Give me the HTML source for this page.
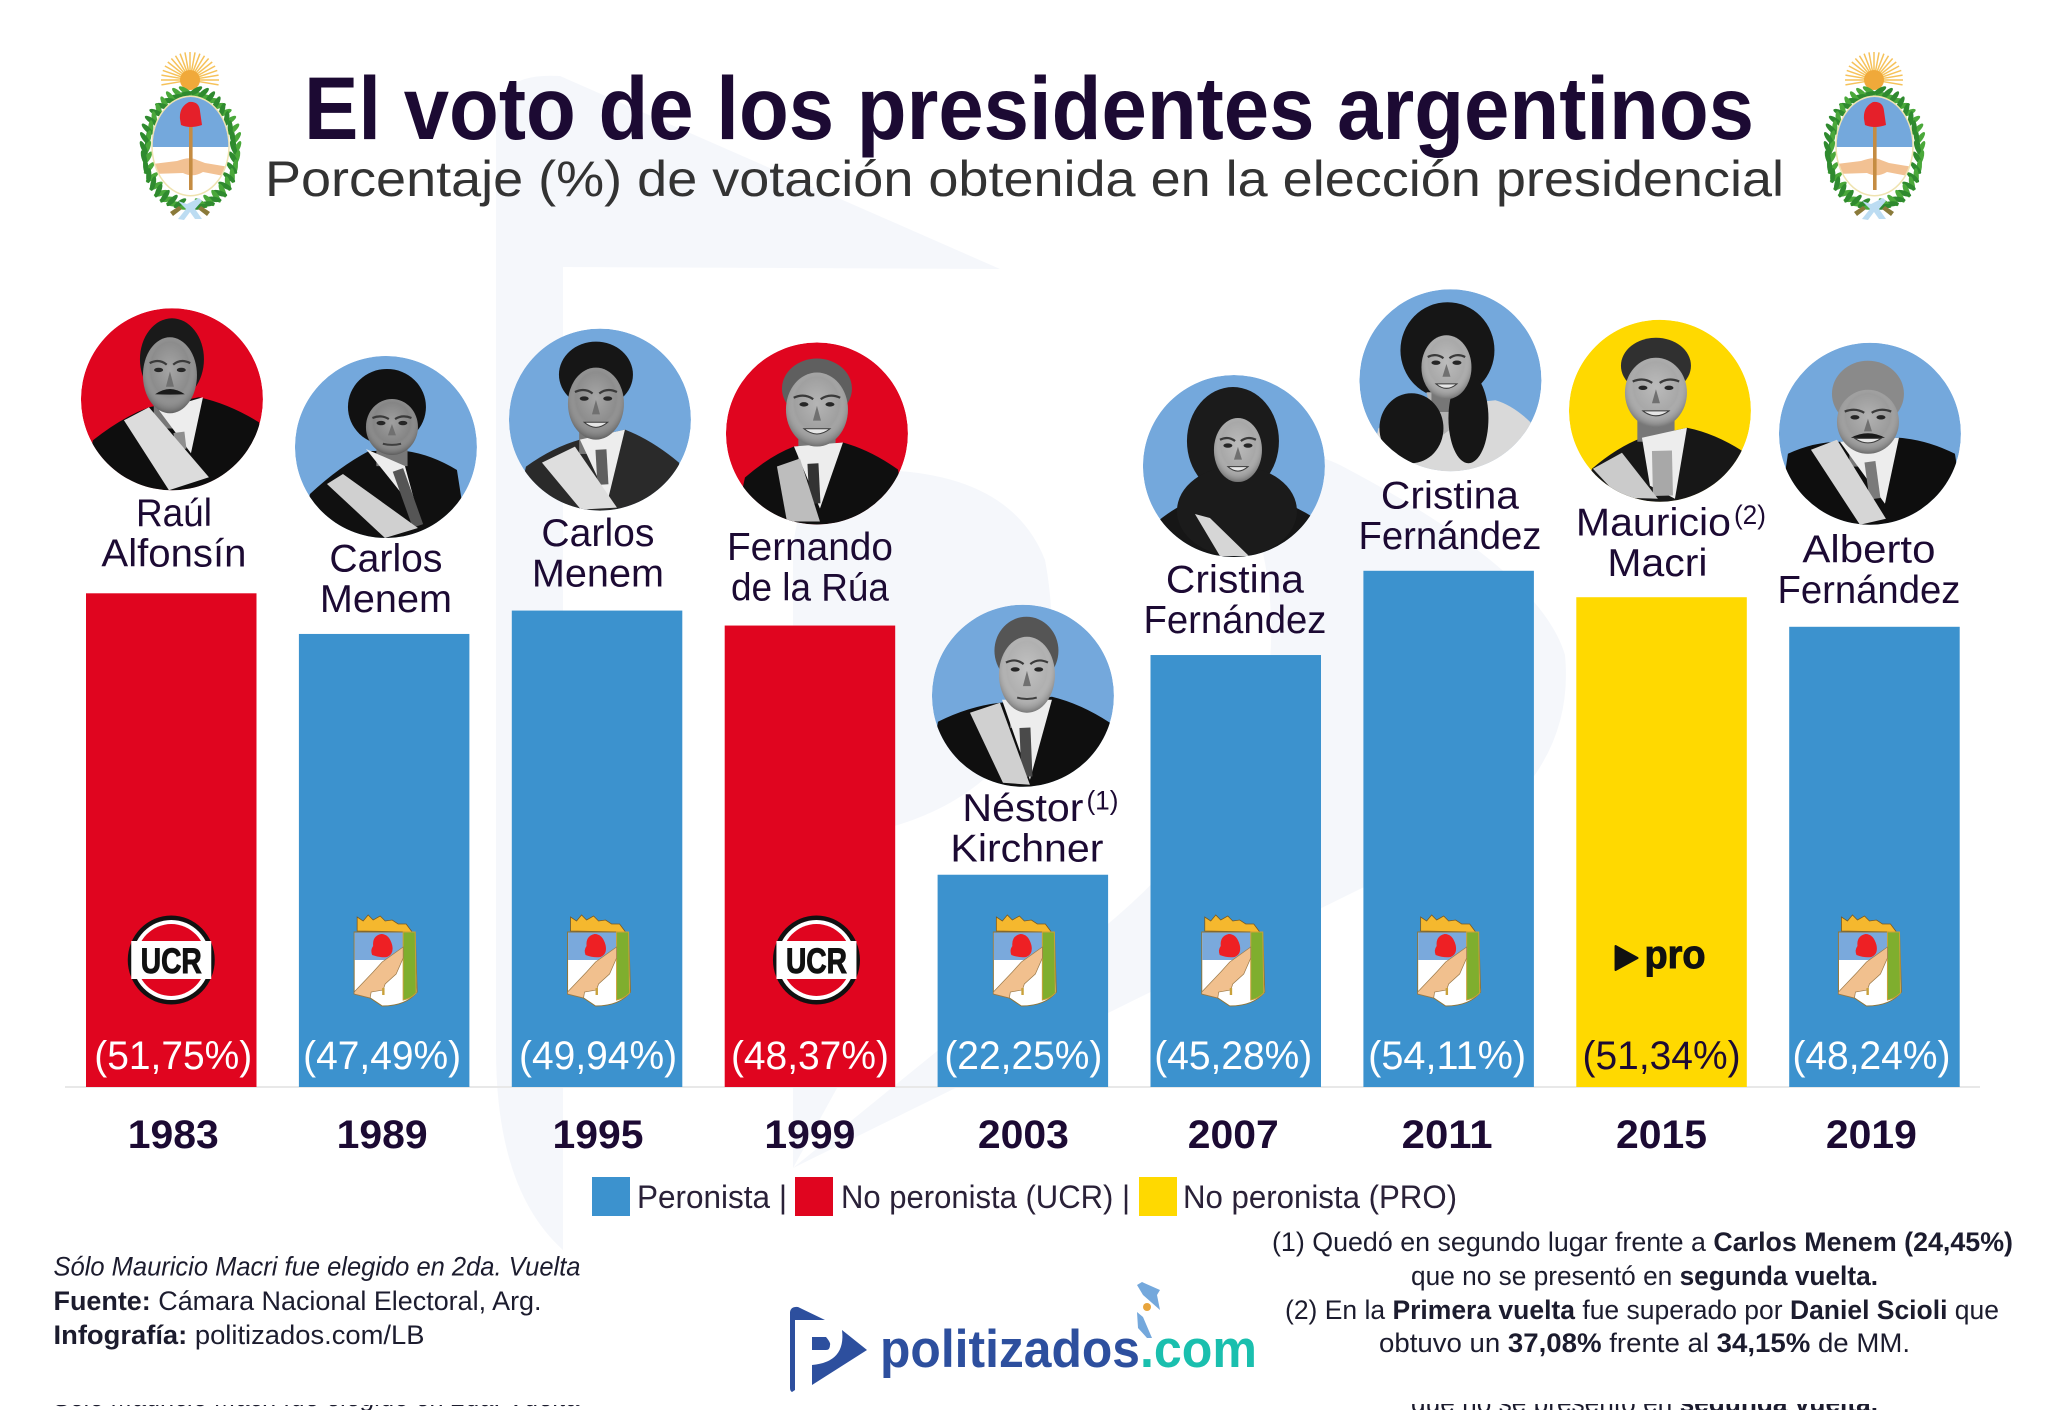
<!DOCTYPE html>
<html lang="es">
<head>
<meta charset="utf-8">
<title>El voto de los presidentes argentinos</title>
<style>
html,body{margin:0;padding:0;background:#fff;}
svg{display:block;font-family:"Liberation Sans",sans-serif;}
</style>
</head>
<body>
<svg id="chart" xmlns="http://www.w3.org/2000/svg" width="2048" height="1410" viewBox="0 0 2048 1410">
  <defs>
    <clipPath id="portrait-clip"><circle cx="0" cy="0" r="91"/></clipPath>
    <clipPath id="bottom-clip-left"><rect x="0" y="1405" width="700" height="5"/></clipPath>
    <clipPath id="bottom-clip-right"><rect x="1300" y="1404" width="700" height="6"/></clipPath>
    <clipPath id="oval-clip"><ellipse cx="53.5" cy="95" rx="37.8" ry="49"/></clipPath>
    <radialGradient id="face-shade" cx="50%" cy="42%" r="60%">
      <stop offset="0%" stop-color="#ffffff" stop-opacity="0.22"/>
      <stop offset="60%" stop-color="#ffffff" stop-opacity="0"/>
      <stop offset="100%" stop-color="#000000" stop-opacity="0.4"/>
    </radialGradient>
    <symbol id="crest" viewBox="0 0 106 170" width="106" height="170" overflow="visible">
      <g id="crest-rays" stroke="#f6c25a" stroke-width="1.5"></g>
      <circle cx="53" cy="29" r="10" fill="#f0a93a"/>
      <ellipse cx="53.5" cy="98" rx="45" ry="57" fill="none" stroke="#2f8a2f" stroke-width="1.5"/>
      <g id="crest-leaves"></g>
      <ellipse cx="53.5" cy="95" rx="38.5" ry="49.7" fill="#fff" stroke="#efe3b0" stroke-width="1.5"/>
      <g clip-path="url(#oval-clip)">
        <rect x="10" y="40" width="90" height="56" fill="#74a8dc"/>
        <path d="M15 113 L40 110 Q53 105 60 109 L68 112 L92 116 L92 126 L66 121 Q56 127 46 122 L15 123 Z" fill="#f2c193"/>
      </g>
      <rect x="52" y="73" width="3.6" height="66" fill="#c58c42"/>
      <path d="M43 68 Q42 56 52 51 Q62 50 63 60 L65 74 Q53 78 44 74 Z" fill="#e5202a"/>
      <path d="M41 150 L50 153 L62 147 L65 150 L58 158 L65 168 L58 168 L53 161 L47 169 L41 168 L49 158 Z" fill="#bcdcf2"/>
      <path d="M33 161 L42 155 L45 158 L36 165 Z M73 161 L64 155 L61 158 L70 165 Z" fill="#8a7a3a"/>
    </symbol>
    <symbol id="pj-shield" viewBox="0 0 64 94" width="64" height="94" overflow="visible">
      <path d="M3 17 L3 3 L9 7 L14 1 L19 6 L26 2 L31 7 L38 6 L44 10 L52 10 L58 18 Z" fill="#f5b82e" stroke="#7a5a22" stroke-width="0.8"/>
      <path d="M0 18 L61 18 L63 78 Q52 92 28 92 L16 84 L0 80 Z" fill="#fff" stroke="#8f7438" stroke-width="1"/>
      <path d="M0.5 18.5 L49 18.5 L49 46 L0.5 46 Z" fill="#7aa9dc"/>
      <path d="M18 41 Q16 36 19 32 Q18 22 27 20 Q35 20 38 31 Q40 40 33 43 Q26 44 18 41 Z" fill="#ee2024"/>
      <path d="M49 18 L61 18 L62 79 Q56 85 49 86 Z" fill="#7fae2e" stroke="#c9a13a" stroke-width="1"/>
      <path d="M0 78 L19 58 L28 48 L49 33 L49 44 L42 60 L31 70 L29 76 L17 78 L16 84 L0 80 Z" fill="#f1c08e" stroke="#9c7a4a" stroke-width="0.7"/>
      <rect x="28" y="74" width="2.4" height="7" fill="#c9a13a"/>
    </symbol>
    <symbol id="ucr-logo" viewBox="-44 -45 88 90" width="88" height="90" overflow="visible">
      <ellipse cx="0" cy="0" rx="43.5" ry="44.5" fill="#111"/>
      <ellipse cx="0" cy="0" rx="39" ry="40" fill="#fff"/>
      <ellipse cx="0" cy="0" rx="35" ry="36" fill="#e0051f"/>
      <rect x="-40" y="-19" width="80" height="38" fill="#fff"/>
    </symbol>
  </defs>

  <rect x="0" y="0" width="2048" height="1410" fill="#fff"/>

  <g fill="#f5f7fb">
    <path d="M496 120 Q496 72 560 76 L1000 269 L563 267 L563 1250 Q496 1190 496 1050 Z"/>
    <path d="M793 1168 L793 560 Q793 470 870 470 Q1010 470 1045 560 Q1060 640 1040 700 Q1000 800 880 830 L880 1010 Z"/>
    <path d="M1240 480 Q1290 440 1340 465 Q1540 570 1565 655 Q1575 760 1480 830 L793 1168 L1000 1000 Q1200 880 1260 720 Q1290 600 1240 480 Z"/>
  </g>

  <use href="#crest" x="137" y="51"/>
  <use href="#crest" x="1821" y="51"/>

  <text x="304" y="139" font-size="89" font-weight="700" fill="#1c0a33" textLength="1450" lengthAdjust="spacingAndGlyphs">El voto de los presidentes argentinos</text>
  <text x="265" y="196" font-size="50" fill="#333333" textLength="1519" lengthAdjust="spacingAndGlyphs">Porcentaje (%) de votación obtenida en la elección presidencial</text>

  <line x1="65" y1="1087" x2="1980" y2="1087" stroke="#e8e8e8" stroke-width="2"/>

  <g id="bars"></g>
  <g id="logos"></g>
  <g id="portraits"></g>
  <g id="labels"></g>

  <g font-size="32" fill="#2a2138">
    <rect x="592" y="1177" width="38" height="39" fill="#3c92ce"/>
    <text x="637" y="1208" textLength="150" lengthAdjust="spacingAndGlyphs">Peronista |</text>
    <rect x="795" y="1177" width="38" height="39" fill="#e0051f"/>
    <text x="841" y="1208" textLength="289" lengthAdjust="spacingAndGlyphs">No peronista (UCR) |</text>
    <rect x="1139" y="1177" width="38" height="39" fill="#ffd900"/>
    <text x="1183" y="1208" textLength="274" lengthAdjust="spacingAndGlyphs">No peronista (PRO)</text>
  </g>

  <g font-size="27" fill="#1c1c2e">
    <text x="53.5" y="1275.5" font-style="italic" textLength="527" lengthAdjust="spacingAndGlyphs">Sólo Mauricio Macri fue elegido en 2da. Vuelta</text>
    <text x="53.5" y="1310" textLength="488" lengthAdjust="spacingAndGlyphs"><tspan font-weight="700">Fuente:</tspan> Cámara Nacional Electoral, Arg.</text>
    <text x="53.5" y="1344" textLength="371" lengthAdjust="spacingAndGlyphs"><tspan font-weight="700">Infografía:</tspan> politizados.com/LB</text>
  </g>

  <g font-size="27" fill="#1c1c2e">
    <text x="1272" y="1251" textLength="741" lengthAdjust="spacingAndGlyphs">(1) Quedó en segundo lugar frente a <tspan font-weight="700">Carlos Menem (24,45%)</tspan></text>
    <text x="1411" y="1285" textLength="467" lengthAdjust="spacingAndGlyphs">que no se presentó en <tspan font-weight="700">segunda vuelta.</tspan></text>
    <text x="1285" y="1319" textLength="714" lengthAdjust="spacingAndGlyphs">(2) En la <tspan font-weight="700">Primera vuelta</tspan> fue superado por <tspan font-weight="700">Daniel Scioli</tspan> que</text>
    <text x="1379" y="1352" textLength="531" lengthAdjust="spacingAndGlyphs">obtuvo un <tspan font-weight="700">37,08%</tspan> frente al <tspan font-weight="700">34,15%</tspan> de MM.</text>
  </g>

  <g>
    <path d="M790 1312 Q791 1306 798 1307 L825 1320 L795 1320 L795 1390 L792 1392 Q790 1391 790 1388 Z" fill="#2d4f9e"/>
    <path d="M812 1337 L826 1337 Q831 1343 830 1345 Q830 1350 826 1350 L812 1350 Z" fill="#2d4f9e"/>
    <path d="M842 1330 L867 1350 L812 1385 L812 1365 Q846 1362 842 1330 Z" fill="#2d4f9e"/>
    <text x="880" y="1367" font-size="53" font-weight="700" fill="#2d4f9e" textLength="260" lengthAdjust="spacingAndGlyphs">politizados</text>
    <text x="1140" y="1367" font-size="53" font-weight="700" fill="#1abfae" textLength="117" lengthAdjust="spacingAndGlyphs">.com</text>
    <path d="M1137 1285 L1142 1282 L1160 1290 L1157 1295 L1160 1310 L1143 1295 Z M1137 1312 L1143 1317 L1152 1338 L1147 1338 L1138 1328 Z" fill="#74a8dc"/>
    <circle cx="1147" cy="1307" r="4" fill="#e8a53c"/>
  </g>

  <g clip-path="url(#bottom-clip-left)">
    <text x="53.5" y="1406" font-size="27" font-style="italic" fill="#1c1c2e" textLength="527" lengthAdjust="spacingAndGlyphs">Sólo Mauricio Macri fue elegido en 2da. Vuelta</text>
  </g>
  <g clip-path="url(#bottom-clip-right)">
    <text x="1411" y="1412" font-size="27" fill="#1c1c2e" textLength="467" lengthAdjust="spacingAndGlyphs">que no se presentó en <tspan font-weight="700">segunda vuelta.</tspan></text>
  </g>
</svg>

<script>
// ---- chart data ----
const years = ["1983", "1989", "1995", "1999", "2003", "2007", "2011", "2015", "2019"];
const votePercent = [51.75, 47.49, 49.94, 48.37, 22.25, 45.28, 54.11, 51.34, 48.24];
const printedValues = ["(51,75%)", "(47,49%)", "(49,94%)", "(48,37%)", "(22,25%)", "(45,28%)", "(54,11%)", "(51,34%)", "(48,24%)"];
const parties = ["ucr", "peronista", "peronista", "ucr", "peronista", "peronista", "peronista", "pro", "peronista"];
const firstNames = ["Raúl", "Carlos", "Carlos", "Fernando", "Néstor", "Cristina", "Cristina", "Mauricio", "Alberto"];
const lastNames = ["Alfonsín", "Menem", "Menem", "de la Rúa", "Kirchner", "Fernández", "Fernández", "Macri", "Fernández"];
const footnoteMarks = ["", "", "", "", "(1)", "", "", "(2)", ""];

// ---- layout (not data) ----
const svgNS = "http://www.w3.org/2000/svg";
const partyColor = { peronista: "#3c92ce", ucr: "#e0051f", pro: "#ffd900" };
const portraitColor = { peronista: "#74a8dc", ucr: "#e0051f", pro: "#ffd900" };
const barWidth = 170.5;
const baselineY = 1087;
const xBand = i => 86 + i * 212.9;
const xCenter = i => xBand(i) + barWidth / 2;
const yScale = v => baselineY - v * 9.54;

const labelNudge = [2, -2, 1, 0, 0.5, -2.5, -1.5, 0, -3];
const nameNudge = [2.7, 1.8, 0.9, 0, 4.1, -0.8, 1.3, -4.1, -5.5];
const portraitNudge = [0.7, 1.8, 2.9, 7, 0.1, -1.8, 1.8, -1.6, -4.5];
const logoNudge = [0, 2, 2.5, 6.5, 2.5, -2, 1, 0, -4];
const nameGap = [27, 22, 24, 25, 13, 22, 22, 21, 24];
const portraitRise = [167, 165, 167, 167, 166, 167, 168.6, 165.5, 169];
const firstNameWidth = [76, 113, 113, 166, 121, 138, 138, 155, 133];
const lastNameWidth = [145, 132, 132, 158, 153, 183, 183, 100, 183];

const portraitLooks = [
  { hair: [0, -40, 32, 41], hairColor: "#1a1a1a", face: [-2, -24, 27, 38], skin: "#8c8c8c", stache: true,
    body: [-79, 41, -23, 8, 27, -2, 87, 23], suit: "#0e0e0e", sash: "-48,21 -23,8 37,78 -3,91", sashColor: "#dcdcdc",
    shirt: "-13,11 31,-2 19,54", tie: [7, 33, 9, 50], tieColor: "#8f8f8f" },
  { hair: [1, -40, 39, 38], hairColor: "#111111", face: [6, -20, 26, 28], skin: "#858585",
    body: [-76, 47, -17, 4, 20, 4, 71, 23], suit: "#101010", sash: "-59,37 -43,27 32,81 -1,91", sashColor: "#d0d0d0",
    shirt: "-20,2 19,19 32,67", tie: [12, 23, 32, 79], tieColor: "#555555" },
  { hair: [-4, -45, 37, 33], hairColor: "#161616", face: [-4, -16, 28, 36], skin: "#8d8d8d", smile: true,
    body: [-74, 47, -20, 20, 25, 10, 79, 43], suit: "#2a2a2a", sash: "-58,43 -25,27 17,88 -19,90", sashColor: "#dedede",
    shirt: "-20,20 25,10 8,80", tie: [1, 30, 3, 65], tieColor: "#5f5f5f" },
  { hair: [0, -45, 35, 30], hairColor: "#5f5f5f", face: [0, -24, 31, 37], skin: "#a0a0a0", smile: true,
    body: [-72, 44, -23, 13, 26, 9, 81, 36], suit: "#0f0f0f", sash: "-40,33 -17,25 3,88 -30,88", sashColor: "#bdbdbd",
    shirt: "-23,13 26,9 3,75", tie: [-4, 30, -2, 70], tieColor: "#333333" },
  { hair: [3.5, -45, 32, 34], hairColor: "#555555", face: [4, -21, 28, 38], skin: "#b0b0b0",
    body: [-85, 26, -23, 7, 29, 1, 87, 27], suit: "#0f0f0f", sash: "-53,17 -23,7 7,89 -20,87", sashColor: "#d0d0d0",
    shirt: "-21,4 29,4 7,84", tie: [2, 32, 4, 81], tieColor: "#4a4a4a" },
  { hair: [-1, -25, 46, 54], hairColor: "#1b1b1b", face: [4, -16, 24, 32], skin: "#a8a8a8", smile: true,
    body: [-76, 55, -30, 30, 30, 30, 85, 55], suit: "#161616", sash: "-39,48 -24,52 15,90 -14,90", sashColor: "#d6d6d6",
    curls: [[3, 45, 60, 45]] },
  { hair: [-3, -30, 47, 48], hairColor: "#161616", face: [-4, -13, 25, 32], skin: "#a9a9a9", smile: true,
    body: [-72, 48, -29, 28, 45, 20, 80, 42], suit: "#d9d9d9", chest: "-24,12 14,12 12,40 -8,55 -20,30",
    curls: [[-39, 48, 32, 35], [18, 38, 20, 45]] },
  { hair: [-4, -45, 35, 28], hairColor: "#303030", face: [-4, -18, 31, 35], skin: "#a8a8a8", smile: true,
    body: [-68, 58, -18, 27, 27, 17, 82, 40], suit: "#171717", sash: "-67,58 -38,42 -2,88 -40,87", sashColor: "#cbcbcb",
    shirt: "-18,27 27,17 15,88 -10,75", tie: [2, 40, 3, 85], tieColor: "#a8a8a8", wideTie: true },
  { hair: [-2, -40, 36, 33], hairColor: "#8a8a8a", face: [-2, -12, 31, 32], skin: "#9c9c9c", stache: true, smile: true,
    body: [-82, 20, -30, 8, 29, 4, 85, 20], suit: "#0e0e0e", sash: "-59,16 -33,6 16,85 -10,91", sashColor: "#d6d6d6",
    shirt: "-30,8 29,4 15,70", tie: [0, 28, 5, 65], tieColor: "#7a7a7a" }
];

function make(tag, attrs, parent) {
  const el = document.createElementNS(svgNS, tag);
  for (const k in attrs) el.setAttribute(k, attrs[k]);
  parent.appendChild(el);
  return el;
}

// crest details
const raysG = document.getElementById("crest-rays");
for (let a = -100; a <= 100; a += 10) {
  const t = a * Math.PI / 180;
  make("line", { x1: 53 + 9 * Math.sin(t), y1: 29 - 9 * Math.cos(t), x2: 53 + 29 * Math.sin(t), y2: 29 - 28 * Math.cos(t) }, raysG);
}
const leavesG = document.getElementById("crest-leaves");
for (let a = 8; a <= 172; a += 10) {
  [1, -1].forEach(side => {
    const t = a * Math.PI / 180;
    const px = 53.5 + side * 45 * Math.sin(t);
    const py = 98 - 57 * Math.cos(t);
    [24, -24].forEach((tilt, n) => {
      make("ellipse", { cx: px, cy: py, rx: 2.6, ry: 7.5, fill: n ? "#2f8a2f" : "#4aa83a", transform: "rotate(" + (side * (90 - a) + tilt) + " " + px + " " + py + ") translate(" + (tilt > 0 ? 2 : -2) + " 0)" }, leavesG);
    });
  });
}

// bars
const barsG = document.getElementById("bars");
years.forEach((year, i) => {
  const bar = make("rect", { x: xBand(i), y: yScale(votePercent[i]), width: barWidth, height: baselineY - yScale(votePercent[i]), fill: partyColor[parties[i]] }, barsG);
  
  
});

// party logos
const logosG = document.getElementById("logos");
parties.forEach((party, i) => {
  const cx = xCenter(i) + logoNudge[i];
  if (party === "ucr") {
    const g = make("g", {}, logosG);
    
    
    make("use", { href: "#ucr-logo", x: cx - 44, y: 915 }, g);
    const t = make("text", { x: cx, y: 973, "text-anchor": "middle", "font-size": 35, "font-weight": 700, fill: "#111", stroke: "#111", "stroke-width": 1, textLength: 61, lengthAdjust: "spacingAndGlyphs" }, g);
    t.textContent = "UCR";
  } else if (party === "pro") {
    const g = make("g", {}, logosG);
    
    
    make("path", { d: "M" + (cx - 46) + " 946 L" + (cx - 24) + " 958 L" + (cx - 46) + " 970 Z", fill: "#111", stroke: "#111", "stroke-width": 2, "stroke-linejoin": "round" }, g);
    const t = make("text", { x: cx - 17, y: 968, "font-size": 40, "font-weight": 700, fill: "#111", stroke: "#111", "stroke-width": 1, textLength: 61, lengthAdjust: "spacingAndGlyphs" }, g);
    t.textContent = "pro";
  } else {
    const u = make("use", { href: "#pj-shield", x: cx - 32, y: 914 }, logosG);
    
    
  }
});

// portraits
const portraitsG = document.getElementById("portraits");
years.forEach((year, i) => {
  const p = portraitLooks[i];
  const cx = xCenter(i) + portraitNudge[i];
  const cy = yScale(votePercent[i]) - nameGap[i] - portraitRise[i];
  const g = make("g", { transform: "translate(" + cx + " " + cy + ")" }, portraitsG);
  
  
  const inner = make("g", { "clip-path": "url(#portrait-clip)" }, g);
  make("circle", { cx: 0, cy: 0, r: 91, fill: portraitColor[parties[i]] }, inner);
  const [hx, hy, hrx, hry] = p.hair;
  const [fx, fy, frx, fry] = p.face;
  const [lx, ly, nlx, nly, nrx, nry, rx, ry] = p.body;
  make("ellipse", { cx: hx, cy: hy, rx: hrx, ry: hry, fill: p.hairColor }, inner);
  make("path", { d: "M" + (lx - 12) + " 100 L" + lx + " " + ly + " Q" + ((lx + nlx) / 2) + " " + ((ly + nly) / 2 - 6) + " " + nlx + " " + nly + " L" + nrx + " " + nry + " Q" + ((rx + nrx) / 2) + " " + ((ry + nry) / 2 - 6) + " " + rx + " " + ry + " L" + (rx + 12) + " 100 Z", fill: p.suit }, inner);
  if (p.chest) {
    make("polygon", { points: p.chest, fill: "#b3b3b3" }, inner);
  }
  make("rect", { x: fx - frx * 0.6, y: fy + fry * 0.6, width: frx * 1.2, height: fry * 0.8, fill: "#777777" }, inner);
  if (p.shirt) {
    make("polygon", { points: p.shirt, fill: "#ededed" }, inner);
  }
  if (p.tie) {
    make("path", { d: "M" + p.tie[0] + " " + p.tie[1] + " L" + p.tie[2] + " " + p.tie[3], stroke: p.tieColor, "stroke-width": p.wideTie ? 20 : 11 }, inner);
  }
  if (p.curls) {
    p.curls.forEach(c => {
      make("ellipse", { cx: c[0], cy: c[1], rx: c[2], ry: c[3], fill: p.hairColor }, inner);
    });
  }
  if (p.sash) {
    const sash = make("polygon", { points: p.sash, fill: p.sashColor }, inner);
    
    
  }
  const face = make("ellipse", { cx: fx, cy: fy, rx: frx, ry: fry, fill: p.skin }, inner);
  
  
  make("ellipse", { cx: fx, cy: fy, rx: frx, ry: fry, fill: "url(#face-shade)" }, inner);
  make("path", { d: "M" + (fx - frx * 0.75) + " " + (fy - fry * 0.32) + " Q" + (fx - frx * 0.4) + " " + (fy - fry * 0.45) + " " + (fx - frx * 0.12) + " " + (fy - fry * 0.28) + " M" + (fx + frx * 0.75) + " " + (fy - fry * 0.32) + " Q" + (fx + frx * 0.4) + " " + (fy - fry * 0.45) + " " + (fx + frx * 0.12) + " " + (fy - fry * 0.28), stroke: "#3a3a3a", "stroke-width": 2.2, fill: "none" }, inner);
  make("ellipse", { cx: fx - frx * 0.42, cy: fy - fry * 0.14, rx: 4.5, ry: 2.2, fill: "#262626" }, inner);
  make("ellipse", { cx: fx + frx * 0.42, cy: fy - fry * 0.14, rx: 4.5, ry: 2.2, fill: "#262626" }, inner);
  make("path", { d: "M" + fx + " " + (fy - fry * 0.1) + " L" + (fx - 4) + " " + (fy + fry * 0.3) + " L" + (fx + 4) + " " + (fy + fry * 0.3) + " Z", fill: "#707070" }, inner);
  if (p.stache) {
    make("path", { d: "M" + (fx - frx * 0.55) + " " + (fy + fry * 0.5) + " Q" + fx + " " + (fy + fry * 0.22) + " " + (fx + frx * 0.55) + " " + (fy + fry * 0.5) + " Q" + fx + " " + (fy + fry * 0.52) + " " + (fx - frx * 0.55) + " " + (fy + fry * 0.5) + " Z", fill: "#1a1a1a" }, inner);
  }
  if (p.smile) {
    make("path", { d: "M" + (fx - frx * 0.42) + " " + (fy + fry * 0.52) + " Q" + fx + " " + (fy + fry * 0.8) + " " + (fx + frx * 0.42) + " " + (fy + fry * 0.52) + " Z", fill: "#e6e6e6", stroke: "#3a3a3a", "stroke-width": 1 }, inner);
  } else if (!p.stache) {
    make("path", { d: "M" + (fx - frx * 0.35) + " " + (fy + fry * 0.6) + " Q" + fx + " " + (fy + fry * 0.68) + " " + (fx + frx * 0.35) + " " + (fy + fry * 0.6), stroke: "#3f3f3f", "stroke-width": 2, fill: "none" }, inner);
  }
});

// text labels
const labelsG = document.getElementById("labels");
years.forEach((year, i) => {
  const base2 = yScale(votePercent[i]) - nameGap[i];
  const nameX = xCenter(i) + nameNudge[i];
  const hasMark = footnoteMarks[i] !== "";
  const first = make("text", { x: hasMark ? nameX - 4 : nameX, y: base2 - 40.5, "text-anchor": "middle", "font-size": 39, fill: "#1c0a33", textLength: firstNameWidth[i], lengthAdjust: "spacingAndGlyphs" }, labelsG);
  first.textContent = firstNames[i];
  
  
  const last = make("text", { x: nameX, y: base2, "text-anchor": "middle", "font-size": 39, fill: "#1c0a33", textLength: lastNameWidth[i], lengthAdjust: "spacingAndGlyphs" }, labelsG);
  last.textContent = lastNames[i];
  
  
  if (hasMark) {
    const mark = make("text", { x: nameX - 4 + firstNameWidth[i] / 2 + 3, y: base2 - 52, "font-size": 27, fill: "#1c0a33", textLength: 32, lengthAdjust: "spacingAndGlyphs" }, labelsG);
    mark.textContent = footnoteMarks[i];
    
    
  }
  const value = make("text", { x: xCenter(i) + labelNudge[i], y: 1069, "text-anchor": "middle", "font-size": 40, fill: parties[i] === "pro" ? "#1c0a33" : "#ffffff", textLength: 158, lengthAdjust: "spacingAndGlyphs" }, labelsG);
  value.textContent = printedValues[i];
  
  
  const yearLabel = make("text", { x: xCenter(i) + labelNudge[i], y: 1148, "text-anchor": "middle", "font-size": 40, "font-weight": 700, fill: "#1c0a33", textLength: 91, lengthAdjust: "spacingAndGlyphs" }, labelsG);
  yearLabel.textContent = year;
  
  
});
</script>
</body>
</html>
